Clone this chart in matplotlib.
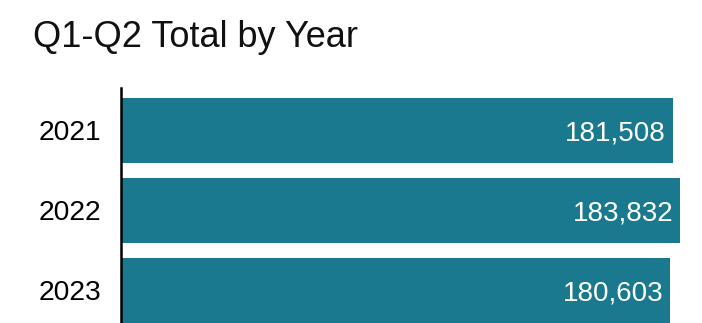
import matplotlib
matplotlib.use("Agg")
import matplotlib.pyplot as plt

plt.rcParams["font.family"] = ["Liberation Sans", "DejaVu Sans"]

# Q1-Q2 totals per year
years = ["2021", "2022", "2023"]
totals = [181508, 183832, 180603]

bar_color = "#1b798f"

W, H = 702, 323
fig = plt.figure(figsize=(W / 100, H / 100), dpi=100)

left, right, top, bottom = 120.5, 690, 88, 323
ax = fig.add_axes([left / W, 1 - bottom / H, (right - left) / W, (bottom - top) / H])

pos = list(range(len(years)))
ax.barh(pos, totals, height=0.81, color=bar_color)

ax.set_xlim(0, 187118)
ax.set_ylim(2.409, -0.529)

ax.set_yticks(pos)
ax.set_yticklabels(years, fontsize=20.3)
ax.tick_params(axis="y", length=0, pad=14)
ax.set_xticks([])

for side in ("top", "right", "bottom"):
    ax.spines[side].set_visible(False)
ax.spines["left"].set_linewidth(1.8)
ax.spines["left"].set_color("black")

for p, v in zip(pos, totals):
    ax.annotate(f"{v:,}", xy=(v, p), xytext=(-5, 0), textcoords="offset points",
                ha="right", va="center_baseline", color="white", fontsize=20)

fig.text(33 / W, 1 - 47 / H, "Q1-Q2 Total by Year", fontsize=26,
         ha="left", va="baseline", color="#111111")

fig.savefig("out.png", dpi=100)
